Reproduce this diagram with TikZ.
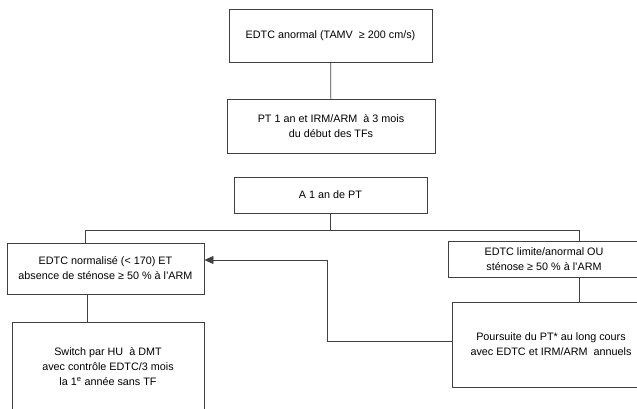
\documentclass[tikz,border=0pt]{standalone}
\usepackage{fontspec}
\setmainfont{Liberation Sans}
\usetikzlibrary{arrows.meta}
\begin{document}
\begin{tikzpicture}[x=1pt, y=-1pt,
    box/.style={draw=black!75, line width=0.8pt, align=center, inner sep=0pt,
        font=\fontsize{10.8}{15}\selectfont},
    link/.style={draw=black!75, line width=0.8pt},
    back/.style={link, -{Triangle[length=9pt,width=8pt]}}]
    \useasboundingbox (0,0) rectangle (637,409);
    \clip (0,0) rectangle (637,409);

    % Start
    \node[box, minimum width=203, minimum height=53] (anormal) at (330.5,35.5)
        {EDTC anormal (TAMV \ ≥ 200 cm/s)};
    \node[box, minimum width=208, minimum height=54] (pt) at (331,126)
        {PT 1 an et IRM/ARM \ à 3 mois\\du début des TFs};
    \node[box, minimum width=193, minimum height=36] (bilan) at (330.5,195)
        {A 1 an de PT};

    % Two outcomes
    \node[box, minimum width=197, minimum height=51] (normal) at (105.5,268.5)
        {EDTC normalisé (< 170) ET\\absence de sténose ≥ 50 \% à l'ARM};
    \node[box, minimum width=192, minimum height=36] (limite) at (544,259)
        {EDTC limite/anormal OU\\sténose ≥ 50 \% à l'ARM};
    \node[box, minimum width=192, minimum height=90] (switch) at (108,367)
        {Switch par HU \ à DMT\\avec contrôle EDTC/3 mois\\la 1\textsuperscript{e} année sans TF};
    \node[box, minimum width=198, minimum height=85] (poursuite) at (551,344.5)
        {Poursuite du PT* au long cours\\avec EDTC et IRM/ARM \ annuels};

    % Connectors
    \coordinate (splitl) at (85,230);
    \coordinate (splitr) at (579,230);
    \coordinate (turn) at (327,260);
    \coordinate (back) at (327,341);
    \draw[link] (anormal) -- (pt);
    \draw[link] (bilan.south) -- (bilan.south |- splitl);
    \draw[link] (splitl |- normal.north) -- (splitl) -- (splitr) -- (splitr |- limite.north);
    \draw[link] (87,0 |- normal.south) -- (87,0 |- switch.north);
    \draw[link] (splitr |- limite.south) -- (splitr |- poursuite.north);
    \draw[back] (poursuite.west |- back) -- (back) -- (turn) -- (normal.east |- turn);
\end{tikzpicture}
\end{document}
